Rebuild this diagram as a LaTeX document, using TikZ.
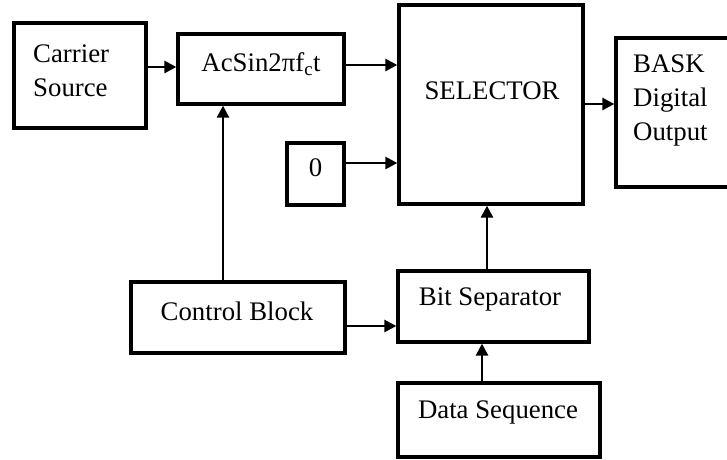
\documentclass[tikz,border=0pt]{standalone}
\usepackage{fontspec}
\setmainfont{Liberation Serif}
\usetikzlibrary{arrows.meta}
\begin{document}
\begin{tikzpicture}[x=1pt,y=-1pt,
  box/.style={draw=black,line width=3.3pt,rectangle,inner sep=0pt,minimum width=#1},
  lbl/.style={inner sep=0pt,font=\fontsize{26.8}{34}\selectfont},
  arr/.style={line width=2.6pt,-{Triangle[length=12pt,width=12pt]}},
  ln/.style={line width=2.6pt}]
\useasboundingbox (0,0) rectangle (727,459);
\clip (0,0) rectangle (727,459);
% boxes
\node[box=132pt,minimum height=105pt] (carrier) at (80,75.5) {};
\node[box=166pt,minimum height=70pt] (acsin) at (261,69) {};
\node[box=184pt,minimum height=199pt] (selector) at (491,104.5) {};
\node[box=57pt,minimum height=62pt] (zero) at (315.5,174) {};
\node[box=124pt,minimum height=149pt] (bask) at (678,112.5) {};
\node[box=214pt,minimum height=71pt] (control) at (238,317.5) {};
\node[box=191pt,minimum height=71pt] (bitsep) at (493.5,306.5) {};
\node[box=202pt,minimum height=74pt] (data) at (499,420) {};
% texts
\node[lbl,anchor=west,align=left] (tcarrier) at (33,71) {Carrier\\Source};
\node[lbl] (tacsin) at (261,64) {AcSin2πf\textsubscript{c}t};
\node[lbl] (tselector) at (492,91) {SELECTOR};
\node[lbl] (tzero) at (315.5,168) {0};
\node[lbl,anchor=west,align=left] (tbask) at (633,100) {BASK\\Digital\\Output};
\node[lbl] (tcontrol) at (237,311) {Control Block};
\node[lbl] (tbitsep) at (490,299) {Bit Separator};
\node[lbl] (tdata) at (498,412) {Data Sequence};
% connector levels
\coordinate (ya) at (0,67);
\coordinate (yb) at (0,65);
\coordinate (yc) at (0,163);
\coordinate (yd) at (0,104);
\coordinate (ye) at (0,326);
\coordinate (xa) at (223,0);
\coordinate (xb) at (487,0);
\coordinate (xc) at (482,0);
% connectors
\draw[arr] (carrier.east |- ya) -- (acsin.west |- ya);
\draw[arr] (acsin.east |- yb) -- (selector.west |- yb);
\draw[arr] (zero.east |- yc) -- (selector.west |- yc);
\draw[arr] (selector.east |- yd) -- (bask.west |- yd);
\draw[arr] (xa |- control.north) -- (xa |- acsin.south);
\draw[arr] (control.east |- ye) -- (bitsep.west |- ye);
\draw[arr] (xb |- bitsep.north) -- (xb |- selector.south);
\draw[arr] (xc |- data.north) -- (xc |- bitsep.south);
\end{tikzpicture}
\end{document}
